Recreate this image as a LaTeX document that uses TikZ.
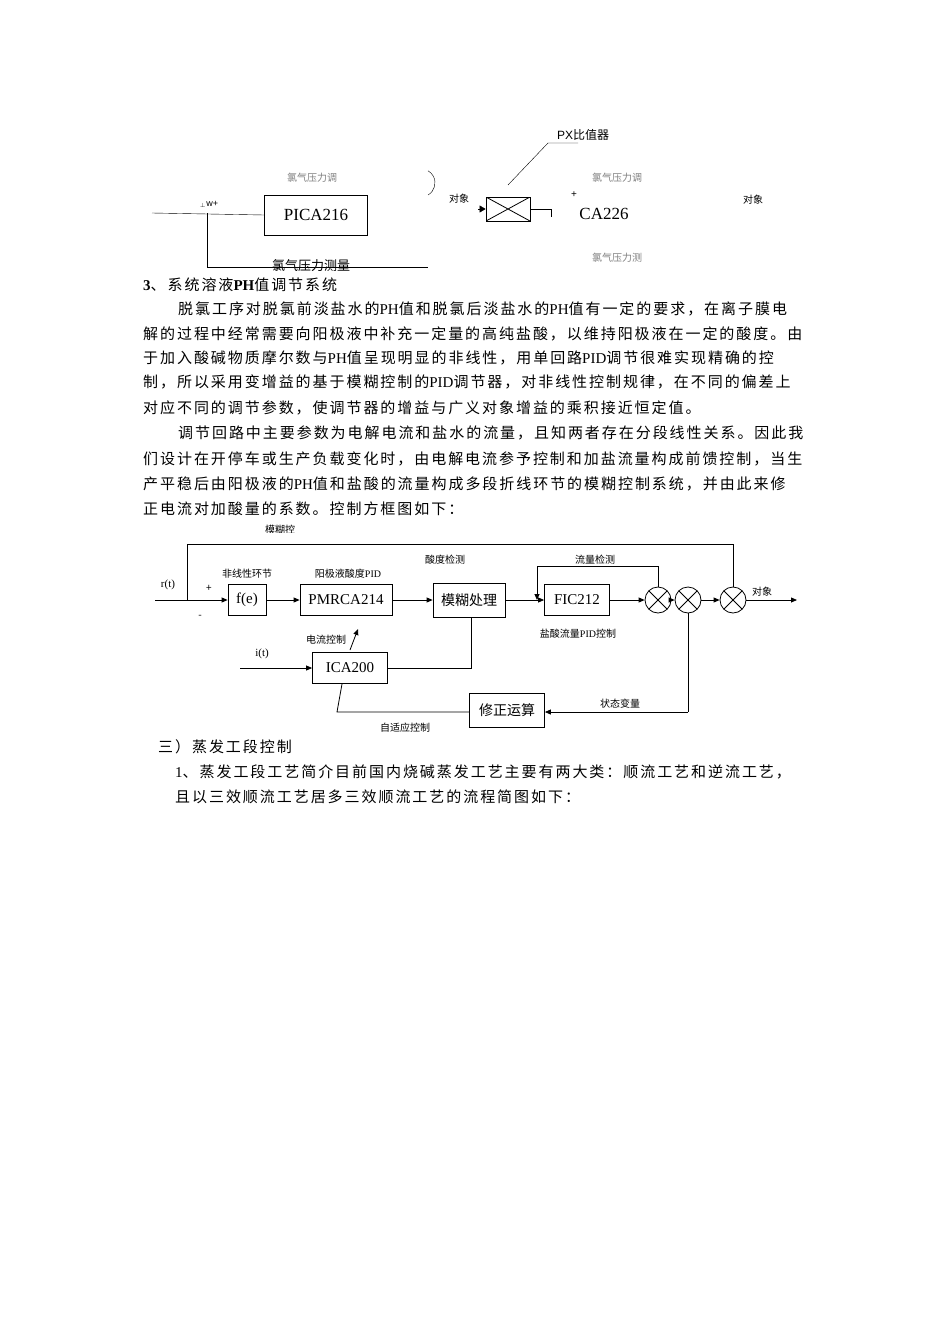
\documentclass[tikz,border=0pt]{standalone}
\usepackage{fontspec}
\setmainfont{Noto Sans CJK SC}
\newfontfamily\bodyf[LetterSpace=13]{Noto Sans CJK SC}
\newfontfamily\lt{Liberation Serif}
\newfontfamily\ls{Liberation Sans}
\usetikzlibrary{arrows.meta}
\begin{document}
\begin{tikzpicture}[x=1pt,y=-1pt,
  body/.style={anchor=west,inner sep=0,font=\bodyf\fontsize{15}{15}\selectfont},
  lbl/.style={inner sep=0,font=\fontsize{10}{10}\selectfont},
  ghost/.style={inner sep=0,font=\fontsize{10}{10}\selectfont,text=gray},
  blk/.style={draw,thick,minimum height=31pt,inner sep=2pt,font=\lt\fontsize{15}{15}\selectfont},
  sumj/.style={draw,thick,circle,minimum size=26pt,inner sep=0,path picture={
     \draw (path picture bounding box.south west)--(path picture bounding box.north east)
           (path picture bounding box.north west)--(path picture bounding box.south east);}},
  ar/.style={thick,-{Triangle[length=6pt,width=5pt]}},
  ln/.style={thick}]
\useasboundingbox[fill=white] (0,0) rectangle (950,1344);
% ---------- top diagram
\node[draw,minimum width=103pt,minimum height=40pt,font=\lt\fontsize{17}{17}\selectfont] (pica) at (316,215) {PICA216};
\coordinate (s0) at (152,213);
\coordinate (jw) at (207,213);
\draw (s0) -- (pica.west);
\coordinate (jb) at (207,267);
\coordinate (je) at (428,267);
\draw (jw) -- (jb) -- (je);
\node[lbl,font=\ls\fontsize{9}{9}\selectfont] (w) at (209,204) {$_\perp$w+};
\node[inner sep=0,font=\fontsize{13}{13}\selectfont] (m1) at (311,266) {氯气压力测量};
\begin{scope}
\clip (280,170) rectangle (660,181);
\node[ghost] (g1) at (312,178) {氯气压力调};
\node[ghost] (g2) at (617,178) {氯气压力调};
\end{scope}
\begin{scope}
\clip (580,250) rectangle (660,261);
\node[ghost] (g3) at (617,258) {氯气压力测};
\end{scope}
\coordinate (arc1) at (428,195);
\draw (arc1) arc (60:-60:14);
\node[lbl] (dx1) at (459,199) {对象};
\node[draw,thick,minimum width=44pt,minimum height=24pt,inner sep=0,path picture={
     \draw (path picture bounding box.south west)--(path picture bounding box.north east)
           (path picture bounding box.north west)--(path picture bounding box.south east);}] (px) at (508,209) {};
\coordinate (pa) at (478,209);
\draw[-{Triangle[length=6pt,width=7pt]}] (pa) -- (px.west);
\coordinate (pb) at (551,209);
\coordinate (pc) at (551,217);
\draw[thick] (px.east) -- (pb) -- (pc);
\coordinate (d1) at (508,185);
\coordinate (d2) at (548,143);
\coordinate (d3) at (578,143);
\draw (d1) -- (d2) -- (d3);
\node[inner sep=0,anchor=west,font=\fontsize{12}{12}\selectfont] (pxl) at (557,135) {{\ls PX}比值器};
\node[lbl,font=\ls\fontsize{10}{10}\selectfont] (pl) at (574,195) {+};
\begin{scope}
\clip (560,200) rectangle (660,219);
\node[inner sep=0,font=\lt\fontsize{17}{17}\selectfont] (ca) at (604,214) {CA226};
\end{scope}
\node[lbl] (dx2) at (753,200) {对象};
% ---------- body text
\node[body] (h3) at (143,285) {{\lt\bfseries 3}、系统溶液{\lt\bfseries PH}值调节系统};
\node[body] (t1) at (178,309) {脱氯工序对脱氯前淡盐水的{\lt PH}值和脱氯后淡盐水的{\lt PH}值有一定的要求，在离子膜电};
\node[body] (t2) at (143,334) {解的过程中经常需要向阳极液中补充一定量的高纯盐酸，以维持阳极液在一定的酸度。由};
\node[body] (t3) at (143,358) {于加入酸碱物质摩尔数与{\lt PH}值呈现明显的非线性，用单回路{\lt PID}调节很难实现精确的控};
\node[body] (t4) at (143,382) {制，所以采用变增益的基于模糊控制的{\lt PID}调节器，对非线性控制规律，在不同的偏差上};
\node[body] (t5) at (143,408) {对应不同的调节参数，使调节器的增益与广义对象增益的乘积接近恒定值。};
\node[body] (t6) at (178,433) {调节回路中主要参数为电解电流和盐水的流量，且知两者存在分段线性关系。因此我};
\node[body] (t7) at (143,459) {们设计在开停车或生产负载变化时，由电解电流参予控制和加盐流量构成前馈控制，当生};
\node[body] (t8) at (143,484) {产平稳后由阳极液的{\lt PH}值和盐酸的流量构成多段折线环节的模糊控制系统，并由此来修};
\node[body] (t9) at (143,509) {正电流对加酸量的系数。控制方框图如下：};
% ---------- second diagram
\begin{scope}
\clip (240,524) rectangle (320,532);
\node[lbl] (mh) at (280,530) {模糊控};
\end{scope}
\node[blk,minimum width=38pt] (fe) at (247,600) {f(e)};
\node[blk,minimum width=92pt] (pm) at (346,600) {PMRCA214};
\node[blk,minimum width=72pt,minimum height=34pt,font=\fontsize{14}{14}\selectfont] (mf) at (469,600) {模糊处理};
\node[blk,minimum width=65pt] (fic) at (577,600) {FIC212};
\node[sumj] (c1) at (658,600) {};
\node[sumj] (c2) at (688,600) {};
\node[sumj] (c3) at (733,600) {};
\node[blk,minimum width=75pt] (ica) at (350,668) {ICA200};
\node[blk,minimum width=75pt,minimum height=34pt,font=\fontsize{14}{14}\selectfont] (xz) at (507,710) {修正运算};
\coordinate (rin) at (155,600);
\coordinate (rj) at (187,600);
\coordinate (rt) at (187,544);
\coordinate (rr) at (733,544);
\coordinate (out) at (797,600);
\draw[ar] (rin) -- (fe.west);
\draw[ln] (rj) -- (rt) -- (rr) -- (c3.north);
\draw[ar] (fe) -- (pm);
\draw[ar] (pm) -- (mf);
\draw[ar] (mf) -- (fic);
\draw[ar] (fic) -- (c1);
\draw[ar] (c1) -- (c2);
\draw[ar] (c2) -- (c3);
\draw[ar] (c3) -- (out);
\coordinate (fb1) at (658,566);
\coordinate (fb2) at (537,566);
\coordinate (fb3) at (537,600);
\draw[ln] (c1.north) -- (fb1) -- (fb2);
\draw[ar] (fb2) -- (fb3);
\coordinate (iin) at (240,668);
\draw[ar] (iin) -- (ica.west);
\coordinate (ic1) at (471,668);
\draw[ln] (ica.east) -- (ic1) -- (mf.south -| ic1);
\coordinate (e1) at (350,650);
\coordinate (e2) at (358,629);
\draw[ar] (e1) -- (e2);
\coordinate (sv1) at (688,712);
\draw[ln] (c2.south) -- (sv1);
\draw[ar] (sv1) -- (xz.east |- sv1);
\coordinate (zs1) at (337,712);
\coordinate (zs2) at (342,684);
\draw[ln] (xz.west |- zs1) -- (zs1) -- (zs2);
\node[lbl] at (168,585) {\lt\fontsize{11}{11}\selectfont r(t)};
\node[lbl] at (209,588) {+};
\node[lbl] at (200,617) {-};
\node[lbl] at (247,574) {非线性环节};
\node[lbl] at (348,574) {阳极液酸度{\lt PID}};
\node[lbl] at (445,560) {酸度检测};
\node[lbl] at (595,560) {流量检测};
\node[lbl] at (762,592) {对象};
\node[lbl] at (578,634) {盐酸流量{\lt PID}控制};
\node[lbl] at (262,654) {\lt\fontsize{11}{11}\selectfont i(t)};
\node[lbl] at (326,640) {电流控制};
\node[lbl] at (620,704) {状态变量};
\node[lbl] at (405,728) {自适应控制};
% ---------- trailing text
\node[body] (s1) at (158,747) {三）蒸发工段控制};
\node[body] (s2) at (175,772) {{\lt 1}、蒸发工段工艺简介目前国内烧碱蒸发工艺主要有两大类：顺流工艺和逆流工艺，};
\node[body] (s3) at (175,797) {且以三效顺流工艺居多三效顺流工艺的流程简图如下：};
\end{tikzpicture}
\end{document}
